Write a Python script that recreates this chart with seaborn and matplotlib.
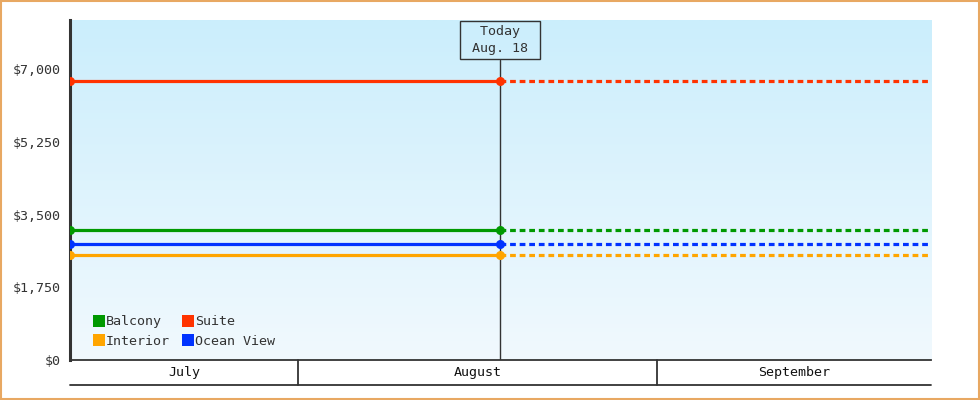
import numpy as np
import pandas as pd
import seaborn as sns
import matplotlib.pyplot as plt
import matplotlib.dates as mdates
from matplotlib.colors import LinearSegmentedColormap
from matplotlib.lines import Line2D
from matplotlib.patches import Rectangle
from matplotlib.ticker import FuncFormatter

# data
rooms = ["Balcony", "Interior", "Suite", "Ocean View"]
prices = [3130, 2530, 6710, 2790]
room_colors = ["#009900", "#ffa500", "#ff3300", "#0033ff"]
start_date = pd.Timestamp("2024-07-12 07:30")
today_date = pd.Timestamp("2024-08-18 10:30")
end_date = pd.Timestamp("2024-09-24 16:00")
month_names = ["July", "August", "September"]
month_starts = [pd.Timestamp("2024-08-01"), pd.Timestamp("2024-09-01")]
today_label = " Today \n Aug. 18 "
y_ticks = [0, 1750, 3500, 5250, 7000]
y_max = 8180

rows = []
for room, price in zip(rooms, prices):
    rows.append((room, start_date, price, "actual"))
    rows.append((room, today_date, price, "actual"))
    rows.append((room, today_date, price, "projected"))
    rows.append((room, end_date, price, "projected"))
df = pd.DataFrame(rows, columns=["room", "date", "price", "segment"])
pal = dict(zip(rooms, room_colors))

sns.set_style("white")
plt.rcParams["font.family"] = ["DejaVu Sans Mono"]
fs = 9.6
dark = "#333333"

fig = plt.figure(figsize=(9.8, 4.0), dpi=100)
ax = fig.add_axes([70 / 980, 40 / 400, 861 / 980, 340 / 400])

# background gradient
cmap = LinearSegmentedColormap.from_list("bg", ["#f1f9fe", "#cbeefc"])
ax.imshow(np.linspace(0, 1, 256).reshape(-1, 1), extent=[0, 1, 0, 1],
          transform=ax.transAxes, aspect="auto", cmap=cmap, origin="lower", zorder=0)

# today marker line and label
ax.axvline(today_date, ymin=0, ymax=(360 - 60) / 340, color=dark, lw=1, zorder=1)
ax.text(today_date, (360 - 40) / 340, today_label, transform=ax.get_xaxis_transform(),
        ha="center", va="center", color=dark, fontsize=fs, linespacing=1.45,
        bbox=dict(boxstyle="square,pad=0.3", fc="none", ec=dark, lw=1), zorder=3)

sns.lineplot(data=df[df.segment == "actual"], x="date", y="price", hue="room",
             palette=pal, hue_order=rooms, marker="o", markersize=6.5, markeredgewidth=0,
             lw=2.3, legend=False, ax=ax, zorder=4)
sns.lineplot(data=df[df.segment == "projected"], x="date", y="price", hue="room",
             palette=pal, hue_order=rooms, lw=2.3, linestyle=(0, (1.8, 1.2)),
             legend=False, ax=ax, zorder=4)

ax.set_xlim(mdates.date2num(start_date), mdates.date2num(end_date))
ax.set_ylim(0, y_max)
ax.set_yticks(y_ticks)
ax.yaxis.set_major_formatter(FuncFormatter(lambda v, p: f"${v:,.0f}"))
ax.set_xticks([])
ax.set_xlabel("")
ax.set_ylabel("")
ax.tick_params(axis="y", length=5, width=2, color=dark, labelcolor=dark, pad=2, labelsize=fs)
for s in ["top", "right"]:
    ax.spines[s].set_visible(False)
ax.spines["left"].set_linewidth(2.2)
ax.spines["left"].set_color(dark)
ax.spines["bottom"].set_linewidth(1.3)
ax.spines["bottom"].set_color(dark)

# month band under the axis
xt = ax.get_xaxis_transform()
band_y = -25 / 340
ax.plot([0, 1], [band_y, band_y], transform=ax.transAxes, color=dark, lw=1.3, clip_on=False)
for m in month_starts:
    ax.plot([m, m], [0, band_y], transform=xt, color=dark, lw=1.3, clip_on=False)
edges = [start_date] + month_starts + [end_date]
for name, a, b in zip(month_names, edges[:-1], edges[1:]):
    ax.text(a + (b - a) / 2, band_y / 2, name, transform=xt, ha="center", va="center",
            color="#111111", fontsize=fs)

# legend
handles = [Line2D([], [], marker="s", ls="none", markersize=8.5, markeredgewidth=0,
                  color=c) for c in room_colors]
ax.legend(handles, rooms, ncol=2, loc="lower left", bbox_to_anchor=(0.014, 0.0),
          frameon=False, handlelength=0.7, handletextpad=0.2, columnspacing=1.0,
          labelspacing=0.5, fontsize=fs, labelcolor=dark)

# outer border
fig.patches.append(Rectangle((0.001, 0.002), 0.998, 0.996, transform=fig.transFigure,
                             fill=False, ec="#e8a862", lw=1.5))

plt.savefig("out.png", dpi=100)
plt.close()
